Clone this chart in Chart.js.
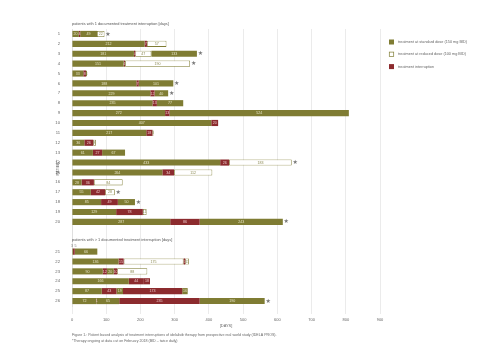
<!DOCTYPE html>
<html>
<head>
<meta charset="utf-8">
<script src="https://cdn.jsdelivr.net/npm/chart.js@4.4.1/dist/chart.umd.min.js"></script>
<style>
  body { margin: 0; background: #ffffff; }
  #wrap { width: 500px; height: 353px; }
</style>
</head>
<body>
<div id="wrap"><canvas id="myChart"></canvas></div>
<script>
// ********* DATA *********
// rows: patients 1-20, two empty rows, patients 21-26
const patients = ["1","2","3","4","5","6","7","8","9","10","11","12","13","14","15","16","17","18","19","20","","","21","22","23","24","25","26"];

// segment days per row (S = standard dose, R = reduced dose, I = interruption)
const days1 = [20,212,181,151,33,188,229,235,272,407,217,36,61,433,264,28,55,85,129,287,null,null,3,136,90,166,87,72];
const kind1 = ["S","S","S","S","S","S","S","S","S","S","S","S","S","S","S","S","S","S","S","S",null,null,"S","S","S","S","S","S"];
const days2 = [4,7,4,4,8,7,12,13,13,20,18,26,27,26,34,36,42,49,78,86,null,null,5,15,12,44,43,1];
const kind2 = ["I","I","I","I","I","I","I","I","I","I","I","I","I","I","I","I","I","I","I","I",null,null,"I","I","I","I","I","I"];
const days3 = [49,57,47,190,3,101,40,77,524,null,3,8,67,183,112,84,28,50,11,243,null,null,66,175,20,18,19,65];
const kind3 = ["S","R","R","R","R","S","S","S","S",null,"R","R","S","R","R","R","R","S","R","S",null,null,"S","R","S","I","S","S"];
const days4 = [22,null,133,null,null,null,null,null,null,null,null,null,null,null,null,null,null,null,null,null,null,null,null,5,10,null,173,235];
const kind4 = ["R",null,"S",null,null,null,null,null,null,null,null,null,null,null,null,null,null,null,null,null,null,null,null,"I","I",null,"I","I"];
const days5 = [null,null,null,null,null,null,null,null,null,null,null,null,null,null,null,null,null,null,null,null,null,null,null,11,88,null,16,190];
const kind5 = [null,null,null,null,null,null,null,null,null,null,null,null,null,null,null,null,null,null,null,null,null,null,null,"R","R",null,"S","S"];

// therapy ongoing at data cut (star)
const ongoing = [true,false,true,true,false,true,true,false,false,false,false,false,false,true,false,false,true,true,false,true,false,false,false,false,false,false,false,true];

const xTicks = [0,100,200,300,400,500,600,700,800,900];

const legendLabels = ["treatment at standard dose (150 mg BID)", "treatment at reduced dose (100 mg BID)", "treatment interruption"];
const sectionTitles = ["patients with 1 documented treatment interruption [days]", "patients with > 1 documented treatment interruption [days]"];
const captionLines = [
  "Figure 1.: Patient based analysis of treatment interruptions of idelalisib therapy from prospective real world study (IDELA PROS).",
  "*Therapy ongoing at data cut on February 2018 (BID \u2013 twice daily)"
];

// ********* STYLES *********
const OLIVE = "#7f7c33";
const RED = "#8c2b2e";
const WHITE = "#ffffff";
const FONT = "'Liberation Sans', Arial, sans-serif";

const fillFor = (k) => (k == "S" ? OLIVE : k == "I" ? RED : WHITE);
const textFor = (k) => (k == "S" ? "#e4e1c4" : k == "I" ? "#ebc9c9" : "#8a8850");

const allDays = [days1, days2, days3, days4, days5];
const allKinds = [kind1, kind2, kind3, kind4, kind5];

// ********* PLUGIN: labels, stars, titles, legend *********
const extrasPlugin = {
  id: "extras",
  afterDatasetsDraw(chart) {
    const ctx = chart.ctx;
    const xs = chart.scales.x;
    const ys = chart.scales.y;
    ctx.save();
    ctx.textAlign = "center";
    ctx.textBaseline = "middle";
    ctx.font = "3.6px " + FONT;

    // segment value labels
    allDays.forEach((arr, di) => {
      const meta = chart.getDatasetMeta(di);
      meta.data.forEach((bar, i) => {
        const v = arr[i];
        if (v == null) return;
        const cx = (bar.x + bar.base) / 2;
        // row 21 has tiny segments -> label above the bar
        if (patients[i] == "21" && v < 10) {
          ctx.fillStyle = "#777";
          ctx.fillText(String(v), cx + (di == 0 ? -0.8 : 1.5), bar.y - 5.5);
        } else {
          ctx.fillStyle = textFor(allKinds[di][i]);
          ctx.fillText(String(v), cx, bar.y + 0.2);
        }
      });
    });

    // stars for ongoing therapy
    ctx.font = "6px 'DejaVu Sans', sans-serif";
    ctx.fillStyle = "#7a7a7a";
    ongoing.forEach((on, i) => {
      if (!on) return;
      let total = 0;
      allDays.forEach((arr) => (total += arr[i] || 0));
      ctx.fillText("\u2605", xs.getPixelForValue(total) + 3.5, ys.getPixelForValue(i));
    });

    // section titles
    ctx.textAlign = "left";
    ctx.fillStyle = "#555";
    ctx.font = "3.9px " + FONT;
    const rowH = ys.getPixelForValue(1) - ys.getPixelForValue(0);
    ctx.fillText(sectionTitles[0], chart.chartArea.left, ys.getPixelForValue(0) - rowH);
    ctx.fillText(sectionTitles[1], chart.chartArea.left, ys.getPixelForValue(21) - 1.5);

    // legend
    const legendColors = [OLIVE, WHITE, RED];
    legendColors.forEach((c, i) => {
      const ly = 42 + i * 12.3;
      ctx.fillStyle = c;
      ctx.fillRect(389, ly - 2.5, 5, 5);
      if (c == WHITE) {
        ctx.strokeStyle = OLIVE;
        ctx.lineWidth = 0.7;
        ctx.strokeRect(389.3, ly - 2.2, 4.4, 4.4);
      }
      ctx.fillStyle = "#666";
      ctx.font = "3.8px " + FONT;
      ctx.fillText(legendLabels[i], 398, ly);
    });

    // axis titles
    ctx.textAlign = "center";
    ctx.fillStyle = "#666";
    ctx.font = "3.9px " + FONT;
    ctx.fillText("[DAYS]", (chart.chartArea.left + chart.chartArea.right) / 2, 326);
    ctx.save();
    ctx.translate(58, (chart.chartArea.top + chart.chartArea.bottom) / 2);
    ctx.rotate(-Math.PI / 2);
    ctx.fillText("PATIENT", 0, 0);
    ctx.restore();

    // caption
    ctx.textAlign = "left";
    ctx.fillStyle = "#666";
    ctx.font = "3.6px " + FONT;
    ctx.fillText(captionLines[0], chart.chartArea.left, 335);
    ctx.fillText(captionLines[1], chart.chartArea.left, 340.5);
    ctx.restore();
  },
};

// ********* CHART *********
let myChartView = null;
const refreshChart = () => {
  const ctx = document.getElementById("myChart");
  if (myChartView != null) {
    myChartView.destroy();
  }

  const datasets = allDays.map((arr, di) => ({
    label: "segment " + (di + 1),
    data: arr,
    backgroundColor: allKinds[di].map((k) => fillFor(k)),
    borderColor: allKinds[di].map((k) => (k == "R" ? OLIVE : "rgba(0,0,0,0)")),
    borderWidth: allKinds[di].map((k) => (k == "R" ? 0.8 : 0)),
    borderSkipped: false,
    categoryPercentage: 1,
    barPercentage: 0.62,
  }));

  myChartView = new Chart(ctx, {
    type: "bar",
    data: { labels: patients, datasets: datasets },
    plugins: [extrasPlugin],
    options: {
      indexAxis: "y",
      responsive: true,
      maintainAspectRatio: false,
      animation: false,
      layout: { padding: { left: 0, right: 120, top: 29, bottom: 0 } },
      plugins: { legend: { display: false }, tooltip: { enabled: false } },
      scales: {
        x: {
          stacked: true,
          min: 0,
          max: 900,
          afterFit: (scale) => {
            scale.height = 47;
          },
          afterBuildTicks: (scale) => {
            scale.ticks = xTicks.map((v) => ({ value: v }));
          },
          grid: { color: "#e6e6e6", lineWidth: 0.8, tickLength: 8 },
          border: { display: false },
          ticks: { color: "#666", padding: 3, font: { size: 4, family: FONT } },
        },
        y: {
          stacked: true,
          afterFit: (scale) => {
            scale.width = 72;
          },
          grid: { display: false },
          border: { display: true, color: "#dddddd", width: 0.8 },
          ticks: { color: "#666", padding: 4, autoSkip: false, font: { size: 4.2, family: FONT } },
        },
      },
    },
  });
};

window.addEventListener("load", () => {
  refreshChart();
});
</script>
</body>
</html>
